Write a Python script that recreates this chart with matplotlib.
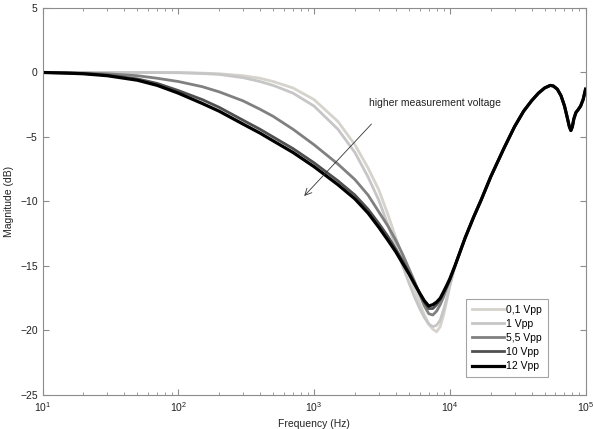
import matplotlib
matplotlib.use("Agg")
import matplotlib.pyplot as plt
from matplotlib.ticker import LogLocator, NullFormatter, MultipleLocator

plt.rcParams['font.family'] = ['Liberation Sans', 'DejaVu Sans']

# Low-frequency branch (differs per voltage)
f_lo = [10, 15, 20, 30, 50, 70, 100, 150, 200, 300, 400, 500, 700, 1000, 1500,
        2000, 2500, 3000, 3500, 4000, 4500, 5000, 5500, 6000, 6500, 7000, 7500,
        8000, 8500, 9000, 9500, 10000]
db_01 = [0, 0, 0, 0, 0, 0, 0, -0.05, -0.1, -0.25, -0.45, -0.7, -1.2, -2.1, -3.8,
         -5.6, -7.4, -9.1, -11.0, -12.8, -14.3, -15.6, -16.8, -17.9, -18.8, -19.5,
         -19.9, -20.1, -19.7, -18.8, -17.7, -16.6]
db_1 = [0, 0, 0, 0, 0, -0.01, -0.02, -0.08, -0.15, -0.4, -0.7, -1.0, -1.6, -2.6,
        -4.4, -6.2, -8.1, -9.9, -11.8, -13.5, -15.0, -16.3, -17.4, -18.3, -19.0,
        -19.5, -19.7, -19.6, -19.2, -18.4, -17.5, -16.5]
db_55 = [0, -0.02, -0.05, -0.1, -0.25, -0.45, -0.7, -1.1, -1.5, -2.2, -2.85, -3.4,
         -4.4, -5.6, -7.1, -8.3, -9.5, -10.8, -11.9, -13.0, -14.1, -15.2, -16.2,
         -17.2, -18.1, -18.7, -18.8, -18.5, -18.0, -17.4, -16.7, -16.1]
db_10 = [0, -0.04, -0.08, -0.2, -0.5, -0.85, -1.4, -2.1, -2.7, -3.7, -4.4, -5.0,
         -5.9, -7.0, -8.4, -9.5, -10.6, -11.7, -12.7, -13.7, -14.6, -15.5, -16.3,
         -17.1, -17.8, -18.3, -18.3, -18.0, -17.6, -17.1, -16.6, -16.1]
db_12 = [0, -0.05, -0.1, -0.25, -0.6, -1.0, -1.6, -2.4, -3.0, -4.0, -4.7, -5.3,
         -6.2, -7.3, -8.7, -9.8, -10.9, -12.0, -13.0, -13.9, -14.8, -15.6, -16.4,
         -17.1, -17.7, -18.1, -18.0, -17.8, -17.5, -17.0, -16.5, -16.0]

# Shared high-frequency branch
f_hi = [11000, 12000, 13000, 15000, 17000, 20000, 25000, 30000, 35000, 40000,
        45000, 50000, 55000, 58000, 62000, 66000, 70000, 73000, 76000, 78000,
        80000, 82000, 85000, 88000, 92000, 96000, 100000]
db_hi = [-14.9, -13.8, -12.8, -11.2, -9.9, -8.1, -5.9, -4.2, -3.0, -2.2, -1.6,
         -1.2, -1.0, -1.05, -1.3, -1.8, -2.6, -3.4, -4.2, -4.5, -4.2, -3.6, -3.1,
         -2.9, -2.6, -2.1, -1.3]

labels = ['0,1 Vpp', '1 Vpp', '5,5 Vpp', '10 Vpp', '12 Vpp']
series = [db_01, db_1, db_55, db_10, db_12]
colors = ['#d6d3cc', '#c6c6c6', '#808080', '#505050', '#000000']
widths = [2.0, 2.0, 2.0, 2.0, 2.3]

fig = plt.figure(figsize=(5.93, 4.29), dpi=100)
ax = fig.add_axes([0.0717, 0.0793, 0.9157, 0.9021])

for lab, d, c, w in zip(labels, series, colors, widths):
    ax.semilogx(f_lo + f_hi, d + db_hi, color=c, lw=w, label=lab,
                solid_joinstyle='round')

ax.set_xlim(10, 1e5)
ax.set_ylim(-25, 5)
ax.yaxis.set_major_locator(MultipleLocator(5))
ax.xaxis.set_major_locator(LogLocator(base=10, numticks=10))
ax.xaxis.set_minor_locator(LogLocator(base=10, subs=range(2, 10), numticks=20))
ax.xaxis.set_minor_formatter(NullFormatter())

for s in ax.spines.values():
    s.set_color('#8c8c8c')
    s.set_linewidth(0.8)
ax.tick_params(which='both', direction='in', top=True, right=True,
               colors='#8c8c8c', labelcolor='#222222', labelsize=7.5)
ax.tick_params(which='major', length=4)
ax.tick_params(which='minor', length=2.5)

ax.set_xlabel('Frequency (Hz)', fontsize=7.5, color='#222222', labelpad=4)
ax.set_ylabel('Magnitude (dB)', fontsize=7.5, color='#222222', labelpad=4)

ax.annotate('', xy=(820, -9.73), xytext=(2735, -3.84),
            arrowprops=dict(arrowstyle='->', color='#333333', lw=0.6,
                            mutation_scale=12))
ax.text(2560, -2.36, 'higher measurement voltage', fontsize=7.5,
        color='#222222', va='center', ha='left')

leg = ax.legend(loc='lower right', bbox_to_anchor=(0.930, 0.0465),
                fontsize=7.5, frameon=True, fancybox=False,
                edgecolor='#8c8c8c', handlelength=3.1, borderaxespad=0,
                labelspacing=0.4, handletextpad=0.2, borderpad=0.55)
leg.get_frame().set_linewidth(0.8)

fig.savefig('out.png', dpi=100, facecolor='white')
